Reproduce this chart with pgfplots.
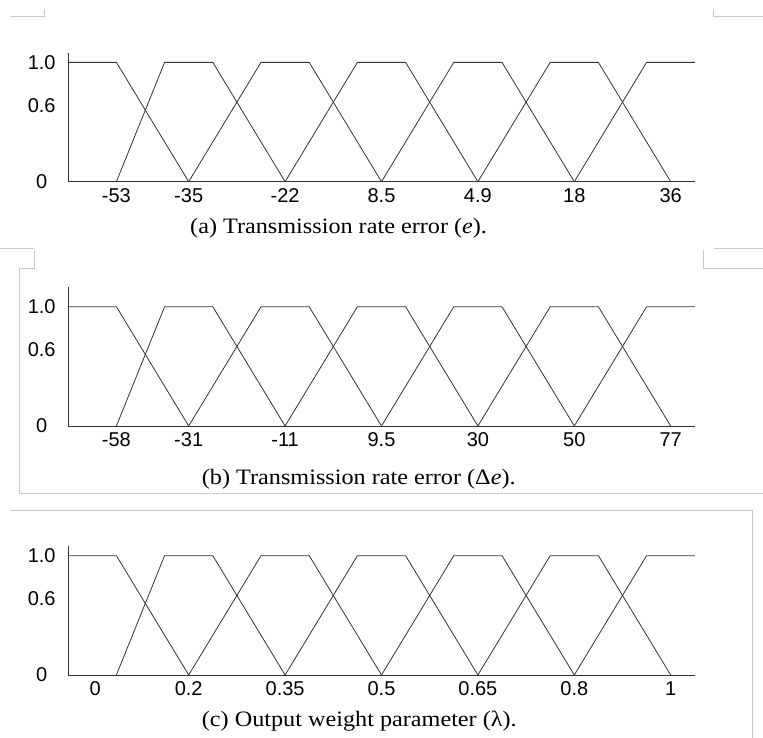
\documentclass[border=0pt]{standalone}
\usepackage{pgfplots}
\pgfplotsset{compat=1.18}
\usepackage{fontspec}
\setmainfont{Liberation Serif}
\newfontfamily\ticksf{Liberation Sans}
\newcommand\capfont{\fontsize{22}{26}\selectfont}
\definecolor{ln}{HTML}{333333}
\definecolor{deco}{HTML}{C8C8C8}

\pgfplotsset{mf/.style={
  scale only axis, width=626.6pt, xmin=-0.25, xmax=6.25, ymin=0,
  axis x line=bottom, axis y line=left,
  axis line style={-, ln, line width=0.9pt},
  major tick length=0pt,
  xtick={0.25,1,2,3,4,5,6},
  ytick={0,0.64,1}, yticklabels={0,0.6,1.0},
  tick label style={font=\ticksf\fontsize{20}{24}\selectfont, text=black},
  xticklabel style={yshift=-3.5pt},
  yticklabel style={anchor=center, xshift=-26.5pt},
  clip=false, anchor=south west
}}

% membership functions (x in category units, y = membership)
\newcommand\mfplots{%
  \addplot[ln, line width=0.8pt] coordinates {(-0.25,1) (0.25,1) (1,0)};
  \addplot[ln, line width=0.8pt] coordinates {(0.25,0) (0.75,1) (1.25,1) (2,0)};
  \addplot[ln, line width=0.8pt] coordinates {(1,0) (1.75,1) (2.25,1) (3,0)};
  \addplot[ln, line width=0.8pt] coordinates {(2,0) (2.75,1) (3.25,1) (4,0)};
  \addplot[ln, line width=0.8pt] coordinates {(3,0) (3.75,1) (4.25,1) (5,0)};
  \addplot[ln, line width=0.8pt] coordinates {(4,0) (4.75,1) (5.25,1) (6,0)};
  \addplot[ln, line width=0.8pt] coordinates {(5,0) (5.75,1) (6.25,1)};
}

\begin{document}
\begin{tikzpicture}
\path[use as bounding box] (0,0) rectangle (763pt,738pt);

% page decorations
\begin{scope}[deco, line width=0.8pt]
\draw (11pt,722pt) -- (44pt,722pt) -- (44pt,729pt);
\draw (713pt,729pt) -- (713pt,722pt) -- (763pt,722pt);
\draw (0pt,490pt) -- (34pt,490pt);
\draw (714pt,490pt) -- (763pt,490pt);
\draw (34pt,488pt) -- (34pt,470pt) -- (19.5pt,470pt) -- (19.5pt,245pt) -- (763pt,245pt);
\draw (703pt,488pt) -- (703pt,470pt) -- (763pt,470pt);
\draw (10pt,228pt) -- (752pt,228pt) -- (752pt,0pt);
\end{scope}

% (a)
\begin{axis}[mf, at={(68.2pt,556.3pt)}, height=128.4pt, ymax=1.076,
  xticklabels={-53,-35,-22,8.5,4.9,18,36}]
\mfplots
\end{axis}
\node[anchor=base west, inner sep=0pt, xscale=1.1, transform shape] at (190pt,504pt) {\capfont (a) Transmission rate error (\textit{e}).};

% (b)
\begin{axis}[mf, at={(68.2pt,312pt)}, height=138.7pt, ymax=1.163,
  xticklabels={-58,-31,-11,9.5,30,50,77}]
\mfplots
\end{axis}
\node[anchor=base west, inner sep=0pt, xscale=1.1, transform shape] at (201.7pt,253.5pt) {\capfont (b) Transmission rate error (Δ\textit{e}).};

% (c)
\begin{axis}[mf, at={(68.2pt,63pt)}, height=129pt, ymax=1.081,
  xtick={0.03,1,2,3,4,5,6},
  xticklabels={0,0.2,0.35,0.5,0.65,0.8,1}]
\mfplots
\end{axis}
\node[anchor=base west, inner sep=0pt, xscale=1.1, transform shape] at (201.7pt,11pt) {\capfont (c) Output weight parameter (λ).};
\end{tikzpicture}
\end{document}
